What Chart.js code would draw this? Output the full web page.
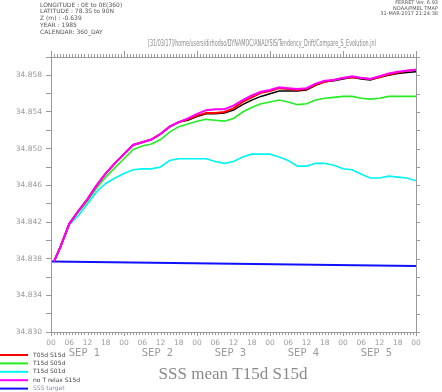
<!DOCTYPE html>
<html><head><meta charset="utf-8">
<script src="https://cdn.jsdelivr.net/npm/chart.js@4.4.1/dist/chart.umd.min.js"></script>
<style>html,body{margin:0;padding:0;background:#fff}#wrap{width:442px;height:392px}</style>
</head><body><div id="wrap"><canvas id="c" width="442" height="392"></canvas></div>
<script>
const hours = [1,3,6,9,12,15,18,21,24,27,30,33,36,39,42,45,48,51,54,57,60,63,66,69,72,75,78,81,84,87,90,93,96,99,102,105,108,111,114,117,120];
const noTRelaxS15d = [34.8377,34.8392,34.8418,34.8432,34.8445,34.8460,34.8473,34.8484,34.8494,34.8504,34.8507,34.8510,34.8516,34.8524,34.8529,34.8533,34.8538,34.8542,34.8543,34.8543,34.8547,34.8553,34.8558,34.8562,34.8564,34.8567,34.8566,34.8565,34.8566,34.8571,34.8574,34.8575,34.8577,34.8579,34.8577,34.8576,34.8579,34.8582,34.8584,34.8585,34.8586];
const t05dS15d = [34.8377,34.8392,34.8418,34.8432,34.8445,34.8460,34.8473,34.8484,34.8494,34.8504,34.8507,34.8510,34.8516,34.8524,34.8529,34.8532,34.8536,34.8539,34.8539,34.8540,34.8544,34.8551,34.8556,34.8561,34.8563,34.8566,34.8565,34.8564,34.8565,34.8570,34.8573,34.8575,34.8577,34.8578,34.8577,34.8576,34.8578,34.8581,34.8583,34.8585,34.8586];
const meanT15dS15d = [34.8377,34.8392,34.8418,34.8432,34.8445,34.8460,34.8473,34.8484,34.8494,34.8504,34.8507,34.8510,34.8516,34.8524,34.8529,34.8531,34.8535,34.8538,34.8538,34.8539,34.8542,34.8548,34.8553,34.8557,34.8560,34.8563,34.8563,34.8563,34.8564,34.8569,34.8573,34.8574,34.8576,34.8578,34.8576,34.8575,34.8578,34.8580,34.8582,34.8583,34.8584];
const t15dS05d = [34.8377,34.8392,34.8418,34.8431,34.8443,34.8457,34.8469,34.8479,34.8489,34.8499,34.8503,34.8505,34.8510,34.8518,34.8524,34.8527,34.8530,34.8532,34.8531,34.8530,34.8533,34.8540,34.8545,34.8549,34.8551,34.8553,34.8551,34.8548,34.8549,34.8553,34.8555,34.8556,34.8557,34.8557,34.8555,34.8554,34.8555,34.8557,34.8557,34.8557,34.8557];
const t15dS01d = [34.8377,34.8392,34.8417,34.8427,34.8440,34.8453,34.8462,34.8468,34.8473,34.8477,34.8478,34.8478,34.8480,34.8487,34.8489,34.8489,34.8489,34.8489,34.8486,34.8484,34.8486,34.8491,34.8494,34.8494,34.8494,34.8491,34.8487,34.8481,34.8481,34.8484,34.8484,34.8482,34.8478,34.8477,34.8472,34.8468,34.8468,34.8470,34.8469,34.8468,34.8465];
const targetHours = [0,120];
const sssTarget = [34.8377,34.8372];
const hourTicks = [0,6,12,18,24,30,36,42,48,54,60,66,72,78,84,90,96,102,108,114,120];
const hourLabels = ['00','06','12','18','00','06','12','18','00','06','12','18','00','06','12','18','00','06','12','18','00'];
const dayLabels = ['SEP  1','SEP  2','SEP  3','SEP  4','SEP  5'];
const legendLabels = ['T05d S15d','T15d S05d','T15d S01d','no T relax S15d','SSS target'];
const headerLines = ['LONGITUDE : 0E to 0E(360)','LATITUDE : 78.3S to 90N','Z (m) : -0.639','YEAR : 1985','CALENDAR: 360_DAY'];
const ferretLines = ['FERRET Ver. 6.93','NOAA/PMEL TMAP','31-MAR-2017 21:24:38'];
const pathLine = '[31/03/17]/home/users/dirhodso/DYNAMOC/ANALYSIS/Tendency_Drift/Compare_S_Evolution.jnl';
const chartTitle = 'SSS mean T15d S15d';

const pts = (xs, ys) => xs.map((h, i) => ({x: h, y: ys[i]}));

const ds = [
  {label: legendLabels[3], data: pts(hours, noTRelaxS15d), borderColor: '#ff00ff', borderWidth: 2, order: 1},
  {label: legendLabels[0], data: pts(hours, t05dS15d), borderColor: '#ff0000', borderWidth: 2, order: 2},
  {label: 'mean', data: pts(hours, meanT15dS15d), borderColor: '#000000', borderWidth: 1.5, order: 3},
  {label: legendLabels[1], data: pts(hours, t15dS05d), borderColor: '#22ee22', borderWidth: 1.6, order: 4},
  {label: legendLabels[2], data: pts(hours, t15dS01d), borderColor: '#00f4f4', borderWidth: 1.6, order: 5},
  {label: legendLabels[4], data: pts(targetHours, sssTarget), borderColor: '#1010ff', borderWidth: 2, order: 6}
].map(d => Object.assign({pointRadius: 0, fill: false, tension: 0}, d));

const legendColors = ['#ff0000','#22ee22','#00f4f4','#ff00ff','#1010ff'];

const deco = {
  id: 'deco',
  afterDraw(chart) {
    const {ctx, chartArea: a, scales: {x, y}} = chart;
    ctx.save();
    ctx.strokeStyle = '#9a9a9a';
    ctx.lineWidth = 1;
    ctx.strokeRect(Math.round(a.left) + 0.5, Math.round(a.top) + 0.5, Math.round(a.right - a.left), Math.round(a.bottom - a.top));
    ctx.beginPath();
    for (let h = 0; h <= 120; h++) {
      const px = Math.round(x.getPixelForValue(h)) + 0.5;
      const lt = h % 24 === 0 ? 6 : 3;
      const lb = h % 24 === 0 ? 4 : 3;
      ctx.moveTo(px, a.top); ctx.lineTo(px, a.top - lt);
      ctx.moveTo(px, a.bottom); ctx.lineTo(px, a.bottom + lb);
    }
    for (let v = 34830; v <= 34860; v += 2) {
      const py = Math.round(y.getPixelForValue(v / 1000)) + 0.5;
      ctx.moveTo(a.right, py); ctx.lineTo(a.right + 4, py);
    }
    ctx.stroke();

    ctx.fillStyle = '#9a9a9a';
    ctx.textAlign = 'center';
    ctx.textBaseline = 'middle';
    ctx.font = '7.5px "DejaVu Sans"';
    hourTicks.forEach((h, i) => ctx.fillText(hourLabels[i], x.getPixelForValue(h), 343));

    ctx.font = '10px "DejaVu Sans"';
    dayLabels.forEach((t, i) => {
      ctx.fillText(t, x.getPixelForValue(24 * i + 11), 353.5);
    });

    ctx.font = '17px "Liberation Serif"';
    ctx.fillStyle = '#8a8a8a';
    ctx.fillText(chartTitle, 233, 375, 160);

    ctx.font = '8px "DejaVu Sans"';
    ctx.textAlign = 'left';
    ctx.fillStyle = '#8a8a8a';
    ctx.fillText(pathLine, 148, 44, 228);

    ctx.font = '6px "DejaVu Sans"';
    ctx.fillStyle = '#555';
    headerLines.forEach((t, i) => ctx.fillText(t, 40, 5 + i * 6.9));

    ctx.font = '5px "DejaVu Sans"';
    ctx.textAlign = 'right';
    ferretLines.forEach((t, i) => ctx.fillText(t, 438, 3 + i * 5.3));

    ctx.textAlign = 'left';
    ctx.font = '6px "DejaVu Sans"';
    legendLabels.forEach((t, i) => {
      const yy = 355 + i * 8.4;
      ctx.strokeStyle = legendColors[i];
      ctx.lineWidth = 2;
      ctx.beginPath(); ctx.moveTo(0, yy); ctx.lineTo(28, yy); ctx.stroke();
      ctx.fillStyle = i === 4 ? '#8a8aa8' : '#444';
      ctx.fillText(t, 33, yy);
    });
    ctx.restore();
  }
};

new Chart(document.getElementById('c'), {
  type: 'line',
  data: {datasets: ds},
  options: {
    responsive: false,
    animation: false,
    devicePixelRatio: 1,
    layout: {padding: {left: 0, top: 57, right: 26, bottom: 0}},
    plugins: {legend: {display: false}, tooltip: {enabled: false}, title: {display: false}},
    scales: {
      x: {
        type: 'linear', min: 0, max: 120,
        afterFit: s => { s.height = 60; },
        grid: {display: false},
        border: {display: false},
        ticks: {display: false, stepSize: 6}
      },
      y: {
        min: 34.830, max: 34.860,
        afterFit: s => { s.width = 51; },
        border: {display: false},
        grid: {drawOnChartArea: false, tickLength: 5, color: '#9a9a9a'},
        ticks: {
          stepSize: 0.002, autoSkip: false, padding: 4,
          color: '#9a9a9a', font: {family: 'DejaVu Sans', size: 7.5},
          callback: v => { const k = Math.round(v * 1000); return (k % 4 === 2) ? (k / 1000).toFixed(3) : ''; }
        }
      }
    }
  },
  plugins: [deco]
});
</script></body></html>
